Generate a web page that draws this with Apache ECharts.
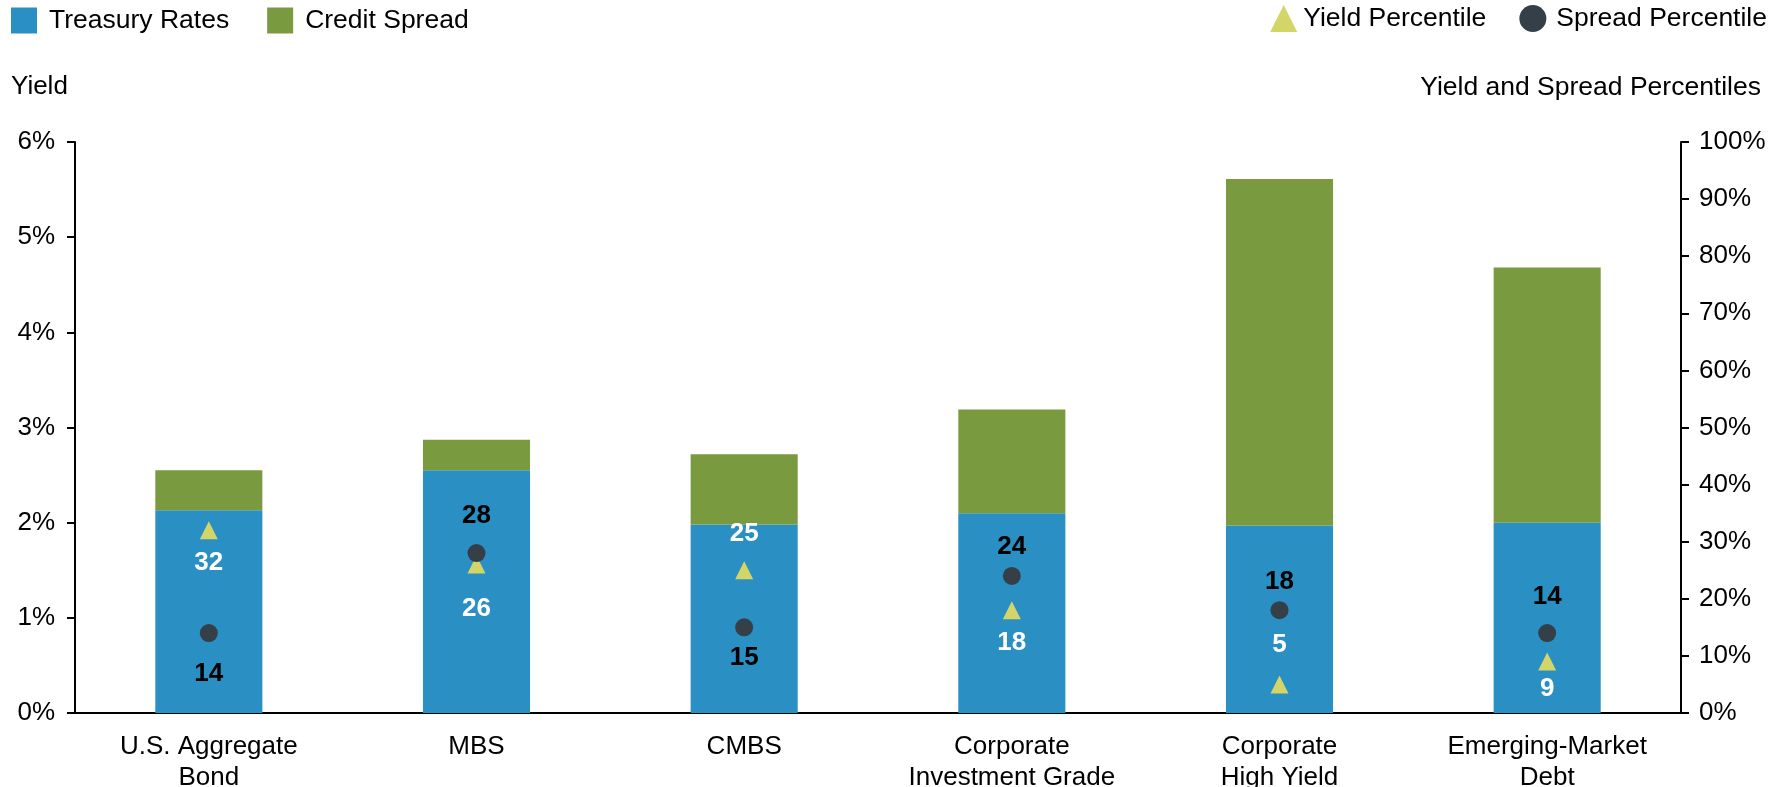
<!DOCTYPE html>
<html>
<head>
<meta charset="utf-8">
<script src="https://cdn.jsdelivr.net/npm/echarts@6/dist/echarts.min.js"></script>
<style>html,body{margin:0;padding:0;background:#fff}#c{width:1789px;height:787px}</style>
</head>
<body>
<div id="c"></div>
<script>
var categories = ['U.S. Aggregate\nBond', 'MBS', 'CMBS', 'Corporate\nInvestment Grade', 'Corporate\nHigh Yield', 'Emerging-Market\nDebt'];
var treasuryRates = [2.13, 2.55, 1.98, 2.10, 1.97, 2.00];
var creditSpread = [0.42, 0.32, 0.74, 1.09, 3.64, 2.68];
var yieldPercentile = [32, 26, 25, 18, 5, 9];
var spreadPercentile = [14, 28, 15, 24, 18, 14];
var leftTicks = [0, 1, 2, 3, 4, 5, 6];
var rightTicks = [0, 10, 20, 30, 40, 50, 60, 70, 80, 90, 100];

// label placement (style only): vertical offset of each value label from its marker
var yieldLabelDy = [33, 44, -36, 33, -40, 27];
var spreadLabelDy = [41, -37, 30, -29, -28, -36];

var FONT = "'Liberation Sans', Arial, sans-serif";
var BLUE = '#2A8FC2', GREEN = '#7A9A3F', TRI = '#D3D566', DOT = '#343F48';

function pts(vals, dys) {
  return vals.map(function (v, i) { return { value: v, label: { offset: [0, dys[i]] } }; });
}

var chart = echarts.init(document.getElementById('c'));
chart.setOption({
  animation: false,
  textStyle: { fontFamily: FONT },
  title: [
    { text: 'Yield', left: 11, top: 74, padding: 0, textStyle: { fontFamily: FONT, fontSize: 26, fontWeight: 'normal', color: '#000' } },
    { text: 'Yield and Spread Percentiles', right: 28, top: 74, padding: 0, textStyle: { fontFamily: FONT, fontSize: 26.5, fontWeight: 'normal', color: '#000' } }
  ],
  legend: [
    { data: ['Treasury Rates', 'Credit Spread'], left: 11, top: 7, padding: 0, itemWidth: 26, itemHeight: 26, itemGap: 38,
      icon: 'rect', textStyle: { fontFamily: FONT, fontSize: 26.5, color: '#000', padding: [0, 0, 0, 7] } },
    { data: [
        { name: 'Yield Percentile', textStyle: { padding: [0, 0, 0, 1] } },
        { name: 'Spread Percentile', textStyle: { padding: [0, 0, 0, 5] } }
      ], right: 22, top: 5, padding: 0, itemWidth: 27, itemHeight: 27, itemGap: 33,
      textStyle: { fontFamily: FONT, fontSize: 26.5, color: '#000' } }
  ],
  grid: { left: 75, right: 108, top: 142, bottom: 74, outerBoundsMode: 'none', containLabel: false },
  xAxis: {
    type: 'category', data: categories,
    axisLine: { lineStyle: { color: '#000', width: 2 } },
    axisTick: { length: 8, lineStyle: { color: '#000', width: 2 } },
    axisLabel: { color: '#000', fontSize: 26, fontFamily: FONT, lineHeight: 31, margin: 18, interval: 0 }
  },
  yAxis: [
    { type: 'value', min: leftTicks[0], max: leftTicks[leftTicks.length - 1], interval: 1,
      axisLine: { show: true, lineStyle: { color: '#000', width: 2 } },
      axisTick: { show: true, length: 8, lineStyle: { color: '#000', width: 2 } },
      splitLine: { show: false },
      axisLabel: { color: '#000', fontSize: 26, fontFamily: FONT, margin: 20, formatter: '{value}%' } },
    { type: 'value', min: rightTicks[0], max: rightTicks[rightTicks.length - 1], interval: 10, position: 'right',
      axisLine: { show: true, lineStyle: { color: '#000', width: 2 } },
      axisTick: { show: true, length: 8, lineStyle: { color: '#000', width: 2 } },
      splitLine: { show: false },
      axisLabel: { color: '#000', fontSize: 26, fontFamily: FONT, margin: 18, formatter: '{value}%' } }
  ],
  series: [
    { name: 'Treasury Rates', type: 'bar', stack: 'y', data: treasuryRates, barWidth: '40%',
      itemStyle: { color: BLUE } },
    { name: 'Credit Spread', type: 'bar', stack: 'y', data: creditSpread, barWidth: '40%',
      itemStyle: { color: GREEN } },
    { name: 'Yield Percentile', type: 'scatter', yAxisIndex: 1, symbol: 'triangle', symbolSize: 18,
      data: pts(yieldPercentile, yieldLabelDy), itemStyle: { color: TRI, opacity: 1 }, z: 3,
      label: { show: true, position: 'inside', color: '#fff', fontWeight: 'bold', fontSize: 26, fontFamily: FONT,
        formatter: function (p) { return p.value; } } },
    { name: 'Spread Percentile', type: 'scatter', yAxisIndex: 1, symbol: 'circle', symbolSize: 18,
      data: pts(spreadPercentile, spreadLabelDy), itemStyle: { color: DOT, opacity: 1 }, z: 4,
      label: { show: true, position: 'inside', color: '#000', fontWeight: 'bold', fontSize: 26, fontFamily: FONT,
        formatter: function (p) { return p.value; } } }
  ]
});
</script>
</body>
</html>
